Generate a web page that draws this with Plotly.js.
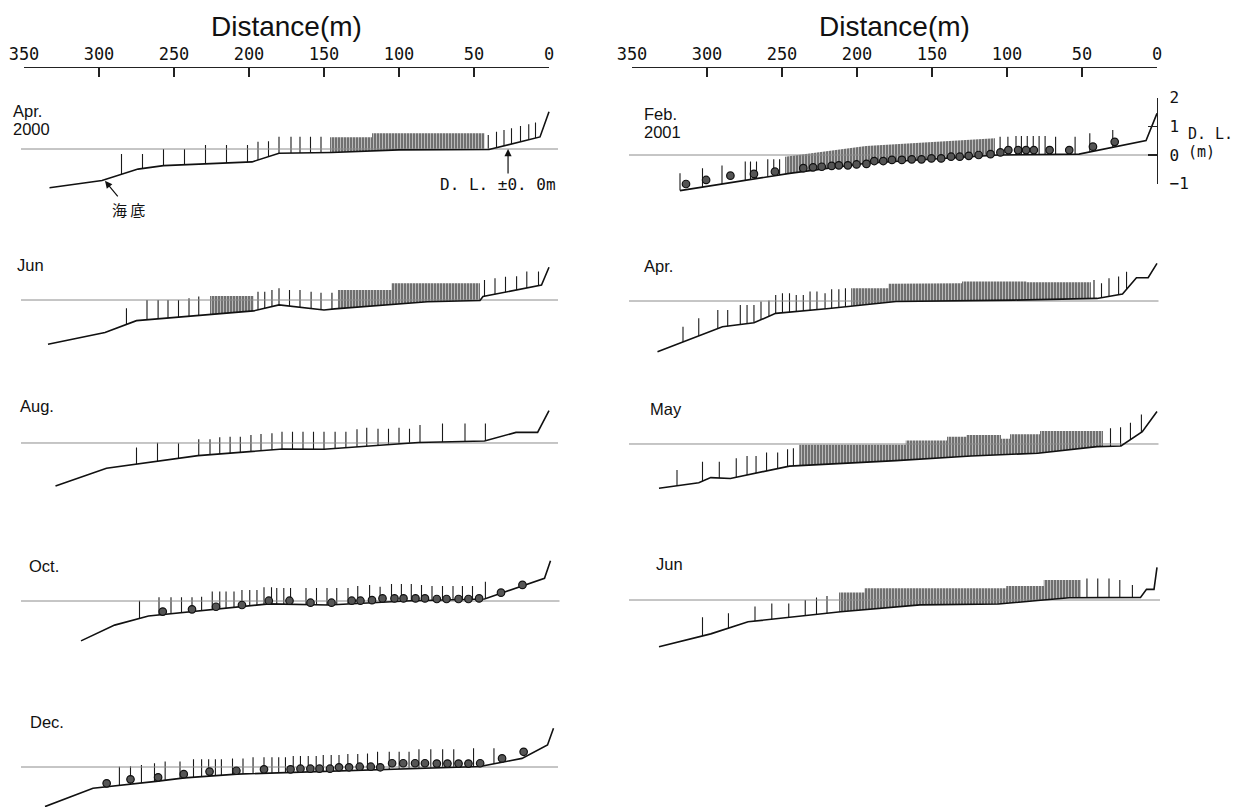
<!DOCTYPE html>
<html><head><meta charset="utf-8">
<script src="https://cdn.plot.ly/plotly-3.0.1.min.js"></script>
<style>html,body{margin:0;padding:0;background:#fff}#chart{width:1238px;height:808px}</style>
</head><body><div id="chart"></div>
<script>
// ---------------- DATA (distance m from shore, elevation m above D.L.) ----------------
const distanceTicks = [350,300,250,200,150,100,50,0];
const elevTicks = [2,1,0,-1];
const panelNames = [['Apr.','2000'],['Jun'],['Aug.'],['Oct.'],['Dec.'],['Feb.','2001'],['Apr.'],['May'],['Jun']];

// Apr. 2000
const seabedApr00 = [[333,-1.35],[298,-1.1],[274,-0.7],[257,-0.58],[198,-0.45],[180,-0.15],[145,-0.12],[100,-0.03],[40,-0.02],[6,0.42],[0,1.3]];
const stalksApr00 = [[285,-0.17],[271,-0.17],[257,0],[243,0],[229,0.14],[215,0.14],[201,0.14],[194,0.25],[187,0.27],[180,0.43],[172,0.43],[166,0.43],[159,0.43],[152,0.43],[40.5,0.49],[35,0.6],[30,0.66],[25,0.72],[19,0.8],[13.5,0.86],[9,0.92]];
const bandsApr00 = [[[146,0.41],[118,0.41],[118,0.55],[43,0.55]]];
const dotsApr00 = [];

// Jun 2000
const seabedJun00 = [[334,-1.54],[296,-1.13],[275,-0.72],[197,-0.38],[180,-0.17],[150,-0.35],[143,-0.31],[81,-0.06],[46,-0.02],[44,0.12],[5,0.52],[0,1.14]];
const stalksJun00 = [[281.7,-0.29],[268,0],[260.6,0],[254,0],[247,0],[240,0.06],[233.5,0.12],[194,0.29],[189.5,0.29],[184.7,0.35],[180,0.41],[173,0.35],[166,0.35],[158.6,0.29],[152,0.25],[144.7,0.25],[43,0.7],[36,0.76],[29,0.81],[21.6,0.83],[14.8,0.99],[7,0.99]];
const bandsJun00 = [[[226,0.14],[197,0.14]],[[140.7,0.35],[105,0.35],[105,0.58],[46,0.58]]];
const dotsJun00 = [];

// Aug. 2000
const seabedAug00 = [[329,-1.5],[295,-0.88],[234,-0.44],[177.6,-0.21],[150,-0.22],[105,-0.05],[87,0.02],[43,0.07],[22,0.37],[7.6,0.37],[0,1.13]];
const stalksAug00 = [[275,-0.16],[261,0.01],[247,-0.01],[233.5,0.13],[226,0.13],[219.5,0.2],[212.6,0.22],[205.8,0.22],[198.7,0.28],[192,0.31],[184.7,0.34],[178,0.39],[171,0.39],[164,0.39],[157,0.39],[150,0.39],[142.6,0.39],[135.4,0.39],[128,0.48],[121.5,0.53],[114,0.5],[107,0.5],[100,0.53],[93,0.5],[86,0.63],[71,0.68],[56,0.68],[42.4,0.68]];
const bandsAug00 = [];
const dotsAug00 = [];

// Oct. 2000
const seabedOct00 = [[312,-1.39],[289.6,-0.84],[267,-0.52],[186.8,-0.1],[147,-0.14],[134,-0.1],[92,0.01],[43,0.07],[3,0.79],[-1,1.4]];
const stalksOct00 = [[273,0.01],[260,0.13],[252,0.13],[245,0.13],[238,0.13],[231.6,0.15],[224.5,0.33],[219.5,0.33],[215.3,0.33],[210,0.33],[204.7,0.38],[199.5,0.38],[194.7,0.38],[190,0.48],[185,0.48],[181.5,0.45],[176.8,0.45],[172.3,0.45],[162,0.45],[155,0.45],[148,0.45],[141.5,0.45],[134,0.45],[127.5,0.52],[119.6,0.56],[112.6,0.5],[105,0.59],[98.4,0.59],[91.8,0.59],[85,0.56],[78,0.52],[71,0.52],[64,0.52],[57.7,0.52],[51,0.52],[42.4,0.67]];
const bandsOct00 = [];
const dotsOct00 = [[257.5,-0.37],[238,-0.29],[222,-0.2],[204.7,-0.14],[186.8,0.01],[173,0.01],[159,-0.06],[145,-0.06],[131.5,0.01],[125.7,0.01],[118,0.03],[111,0.09],[103,0.09],[97,0.09],[89,0.09],[82.7,0.09],[74.8,0.07],[68.3,0.07],[60.3,0.07],[53.7,0.07],[46.6,0.09],[32,0.29],[17.7,0.56]];

// Dec. 2000
const seabedDec00 = [[336,-1.38],[304,-0.74],[262,-0.5],[243,-0.38],[208,-0.25],[113,-0.09],[46,0.02],[26,0.22],[18,0.3],[1,0.77],[-3,1.35]];
const stalksDec00 = [[286.4,0.01],[279,0.03],[271.7,0.07],[263,0.13],[255.9,0.19],[246,0.19],[237,0.27],[231.6,0.27],[226.9,0.27],[222.4,0.27],[218.4,0.27],[211,0.3],[204,0.3],[197.3,0.34],[190,0.34],[184.7,0.34],[180.2,0.34],[175.7,0.34],[170.5,0.38],[165.7,0.38],[160.5,0.38],[155.2,0.38],[150.5,0.42],[145.2,0.42],[140,0.42],[134.1,0.45],[127.5,0.45],[121,0.47],[114.3,0.53],[106.5,0.53],[99.9,0.53],[93.3,0.53],[86.7,0.62],[78.8,0.62],[70.9,0.62],[63.5,0.62],[50.3,0.65],[36.7,0.65]];
const bandsDec00 = [];
const dotsDec00 = [[294.9,-0.57],[279,-0.43],[260.6,-0.36],[243.5,-0.25],[226.3,-0.16],[208.4,-0.13],[190,-0.08],[172.3,-0.08],[165.7,-0.06],[159.1,-0.06],[153,-0.06],[146,-0.06],[140,-0.01],[133.3,-0.01],[126.2,0.01],[118.8,0.01],[112.5,-0.01],[104.6,0.13],[97.2,0.13],[89.3,0.13],[82.7,0.13],[74.8,0.12],[67.7,0.12],[60.3,0.12],[53.7,0.12],[45.9,0.13],[31.3,0.3],[16.9,0.53]];

// Feb. 2001
const seabedFeb01 = [[318,-1.24],[245,-0.64],[193.7,-0.29],[105.7,0],[52,0.03],[7.3,0.5],[0,1.45]];
const stalksFeb01 = [[318,-0.64],[303,-0.46],[290,-0.37],[274.5,-0.23],[271,-0.23],[267,-0.23],[259.5,-0.15],[255.5,-0.15],[251.6,-0.15],[104.6,0.64],[99.4,0.64],[94,0.66],[90.4,0.66],[86.5,0.66],[82.5,0.66],[78.6,0.66],[74.6,0.66],[67.6,0.64],[54.6,0.64],[44.8,0.76],[29.5,0.87]];
const bandsFeb01 = [[[248,-0.06],[194,0.29],[194,0.31],[108,0.58]]];
const dotsFeb01 = [[314,-1.01],[300.6,-0.87],[284.4,-0.72],[268.7,-0.66],[254.7,-0.58],[235.8,-0.46],[229.3,-0.43],[223.5,-0.41],[216.9,-0.38],[212.1,-0.36],[206.1,-0.36],[200.3,-0.33],[193.7,-0.31],[188.5,-0.21],[182.5,-0.21],[176.7,-0.17],[170.1,-0.17],[163.5,-0.15],[157,-0.15],[150.4,-0.12],[143.9,-0.12],[137.3,-0.06],[131.5,-0.06],[125.5,-0.03],[118.9,0],[111,0.03],[104.4,0.09],[99.1,0.17],[92.6,0.17],[87.3,0.17],[82.1,0.17],[71.6,0.17],[58.5,0.17],[42.7,0.29],[28.2,0.46]];

// Apr. 2001
const seabedApr01 = [[333,-1.77],[289.7,-0.9],[268.7,-0.76],[254.2,-0.43],[218.7,-0.26],[174,-0.02],[95.3,0.03],[40,0.09],[23,0.24],[13.7,0.81],[5.9,0.81],[0,1.31]];
const stalksApr01 = [[316,-0.9],[305.5,-0.6],[292.8,-0.31],[286.2,-0.31],[277.8,-0.14],[273.3,-0.14],[268.7,-0.14],[264,-0.02],[258.7,0.02],[254.2,0.21],[249.7,0.27],[245,0.27],[240.5,0.21],[235.8,0.21],[231.3,0.33],[226.7,0.33],[221.3,0.27],[216.9,0.41],[212.1,0.41],[207.7,0.44],[42,0.73],[37,0.62],[32,0.79],[25.6,0.85],[20.3,1.02]];
const bandsApr01 = [[[204,0.44],[179,0.44],[179,0.6],[130,0.62],[130,0.68],[87,0.68],[87,0.65],[44,0.65]]];
const dotsApr01 = [];

// May 2001
const seabedMay01 = [[332,-1.54],[305.5,-1.35],[297.5,-1.17],[284.4,-1.2],[245,-0.77],[174,-0.58],[124,-0.42],[79.5,-0.32],[40,-0.09],[24,-0.07],[9.8,0.43],[0,1.13]];
const stalksMay01 = [[320,-0.91],[303,-0.62],[291.8,-0.62],[280.5,-0.5],[273.3,-0.42],[267.3,-0.42],[260.3,-0.3],[252.9,-0.3],[246.3,-0.18],[242.4,-0.15],[31,0.55],[24.3,0.58],[17.7,0.74],[10.4,1.03]];
const bandsMay01 = [[[238.5,-0.03],[167.5,-0.03],[167.5,0.12],[140,0.12],[140,0.25],[127,0.25],[127,0.31],[104,0.31],[104,0.18],[98,0.18],[98,0.34],[78,0.34],[78,0.45],[36,0.45]]];
const dotsMay01 = [];

// Jun 2001
const seabedJun01 = [[332,-1.63],[297.5,-1.18],[272.6,-0.76],[210.9,-0.41],[158,-0.17],[105.7,-0.14],[79.5,-0.02],[58.5,0.08],[11,0.09],[7,0.37],[2,0.37],[0,1.14]];
const stalksJun01 = [[303,-0.6],[285.7,-0.46],[268,-0.23],[256.8,-0.12],[245.5,-0.12],[234.5,0],[227,0.09],[220,0.14],[46.7,0.75],[39.5,0.75],[32,0.75],[24.8,0.7],[16.4,0.52]];
const bandsJun01 = [[[212,0.26],[195,0.26],[195,0.41],[100.5,0.41],[100.5,0.49],[75.5,0.49],[75.5,0.7],[50.7,0.7]]];
const dotsJun01 = [];

const seabeds = [seabedApr00,seabedJun00,seabedAug00,seabedOct00,seabedDec00,seabedFeb01,seabedApr01,seabedMay01,seabedJun01];
const stalks  = [stalksApr00,stalksJun00,stalksAug00,stalksOct00,stalksDec00,stalksFeb01,stalksApr01,stalksMay01,stalksJun01];
const bands   = [bandsApr00,bandsJun00,bandsAug00,bandsOct00,bandsDec00,bandsFeb01,bandsApr01,bandsMay01,bandsJun01];
const dots    = [dotsApr00,dotsJun00,dotsAug00,dotsOct00,dotsDec00,dotsFeb01,dotsApr01,dotsMay01,dotsJun01];

// ---------------- LAYOUT (pixels) ----------------
const W = 1238, H = 808, PXM = 28.7, PXD = 1.5;
const COLZERO = [549, 1157];          // pixel of distance 0 in each column
const XR = [353, -8];
const COL = [0,0,0,0,0,1,1,1,1];
const DLY = [149,300,443,601,767,155,301,444,600];
const LABXY = [[11,111],[15,265],[18,406],[27,566],[28,722],[642,114],[642,266],[648,409],[654,564]];
const DLEND = [-6,-6,-6,-7,-6,0,-1,-1,-2];
const FLOOR = -4;
const fx = px => px / W, fy = py => 1 - py / H;

// seabed elevation under a given distance (profile is listed from sea to shore)
function seabedAt(sb, x) {
  if (x >= sb[0][0]) return sb[0][1];
  for (let k = 1; k < sb.length; k++) {
    const a = sb[k-1], b = sb[k];
    if (x <= a[0] && x >= b[0]) return a[1] + (b[1]-a[1]) * (a[0]-x) / (a[0]-b[0]);
  }
  return sb[sb.length-1][1];
}

const traces = [];
const layout = {
  width: W, height: H, margin: {l:0,r:0,t:0,b:0}, showlegend: false,
  paper_bgcolor: '#fff', plot_bgcolor: 'rgba(0,0,0,0)', annotations: [],
  font: {family: 'Liberation Sans, Arial, sans-serif', color: '#111'}
};
const noAx = {visible:false, showgrid:false, zeroline:false, fixedrange:true};

seabeds.forEach((sb, i) => {
  const n = i + 1, xa = 'x' + n, ya = 'y' + n, dl = DLY[i], z = COLZERO[COL[i]];
  const top = dl - 1.6 * PXM, bot = Math.min(dl + 1.9 * PXM, 807);
  const yLow = -(bot - dl) / PXM;
  layout['xaxis' + n] = Object.assign({}, noAx, {domain: [fx(z - XR[0]*PXD), fx(z - XR[1]*PXD)], range: XR.slice(), anchor: ya});
  layout['yaxis' + n] = Object.assign({}, noAx, {domain: [fy(bot), fy(top)], range: [yLow, 1.6], anchor: xa});
  const base = {xaxis: xa, yaxis: ya, hoverinfo: 'skip', showlegend: false};
  const bandFloor = Math.max(Math.min.apply(null, sb.map(p => p[1])) - 0.1, yLow + 0.08);
  // dense stalk bands (hatched)
  bands[i].forEach(b => {
    traces.push(Object.assign({}, base, {
      x: b.map(p => p[0]).concat([b[b.length-1][0], b[0][0]]),
      y: b.map(p => p[1]).concat([bandFloor, bandFloor]),
      mode: 'lines', fill: 'toself', line: {width: 0, color: 'rgba(0,0,0,0)'},
      fillcolor: 'rgba(0,0,0,0)',
      fillpattern: {shape: '|', size: 3, solidity: 0.55, fgcolor: '#262626', bgcolor: 'rgba(0,0,0,0)'}
    }));
  });
  // white mask below seabed (hides hatching under the bottom)
  traces.push(Object.assign({}, base, {
    x: sb.map(p => p[0]).concat([sb[sb.length-1][0], sb[0][0]]),
    y: sb.map(p => p[1]).concat([FLOOR, FLOOR]),
    mode: 'lines', fill: 'toself', fillcolor: '#fff', line: {width: 0, color: 'rgba(0,0,0,0)'}
  }));
  // individual stalks, standing on the seabed
  const sx = [], sy = [];
  stalks[i].forEach(s => { sx.push(s[0], s[0], null); sy.push(s[1], seabedAt(sb, s[0]), null); });
  traces.push(Object.assign({}, base, {x: sx, y: sy, mode: 'lines', line: {color: '#1a1a1a', width: 1.1}}));
  // D.L. +-0 line
  traces.push(Object.assign({}, base, {x: [352, DLEND[i]], y: [0, 0], mode: 'lines', line: {color: '#8c8c8c', width: 1}}));
  // seabed profile
  traces.push(Object.assign({}, base, {x: sb.map(p => p[0]), y: sb.map(p => p[1]), mode: 'lines', line: {color: '#111', width: 1.6}}));
  // dots
  if (dots[i].length) traces.push(Object.assign({}, base, {
    x: dots[i].map(p => p[0]), y: dots[i].map(p => p[1]), mode: 'markers',
    marker: {size: 7.5, color: '#555', line: {color: '#111', width: 1.2}}
  }));
  // panel label
  panelNames[i].forEach((t, k) => layout.annotations.push({
    xref: 'paper', yref: 'paper', x: fx(LABXY[i][0]), y: fy(LABXY[i][1] + 18*k), xanchor: 'left', yanchor: 'middle',
    text: t, showarrow: false, font: {size: 16.5, color: '#111', family: 'Liberation Sans, Arial, sans-serif'}
  }));
});

// top distance axes
[[10, 0], [11, 1]].forEach(([n, c]) => {
  const z = COLZERO[c];
  layout['xaxis' + n] = {domain: [fx(z - 350*PXD), fx(z)], range: [350, 0], anchor: 'y' + n, side: 'top',
    tickmode: 'array', tickvals: distanceTicks, ticktext: distanceTicks.map(String),
    ticks: 'inside', ticklen: 9, tickwidth: 1.3, tickcolor: '#222', showline: true, linewidth: 1.3, linecolor: '#222',
    showgrid: false, zeroline: false, fixedrange: true,
    tickfont: {family: 'DejaVu Sans Mono, monospace', size: 17, color: '#111'}};
  layout['yaxis' + n] = Object.assign({}, noAx, {domain: [fy(80), fy(68)], range: [0, 1], anchor: 'x' + n});
  traces.push({x: [175], y: [0.5], xaxis: 'x' + n, yaxis: 'y' + n, mode: 'markers', marker: {opacity: 0}, hoverinfo: 'skip', showlegend: false});
  layout.annotations.push({xref: 'paper', yref: 'paper', x: fx(z - 175*PXD), y: fy(26), text: 'Distance(m)', showarrow: false,
    xanchor: 'center', yanchor: 'middle', font: {family: 'Liberation Sans, Arial, sans-serif', size: 28, color: '#111'}});
});

// right elevation axis (Feb. 2001 panel)
layout.xaxis13 = Object.assign({}, noAx, {domain: layout.xaxis6.domain, range: [0, 1], anchor: 'y12'});
layout.yaxis12 = {domain: [fy(DLY[5] + 1*PXM), fy(DLY[5] - 2*PXM)], range: [-1, 2], anchor: 'free', position: fx(COLZERO[1]),
  side: 'right', tickmode: 'array', tickvals: elevTicks, ticks: 'inside', ticklen: 9, tickwidth: 1.3, tickcolor: '#222',
  showline: true, linewidth: 1.3, linecolor: '#222', showgrid: false, zeroline: false, fixedrange: true, ticklabelstandoff: 8,
  tickfont: {family: 'DejaVu Sans Mono, monospace', size: 16, color: '#111'}};
traces.push({x: [0.5], y: [0.5], xaxis: 'x13', yaxis: 'y12', mode: 'markers', marker: {opacity: 0}, hoverinfo: 'skip', showlegend: false});
layout.annotations.push(
  {xref: 'paper', yref: 'paper', x: fx(1186), y: fy(134), xanchor: 'left', yanchor: 'middle', text: 'D. L.', showarrow: false, font: {family: 'DejaVu Sans Mono, monospace', size: 15, color: '#111'}},
  {xref: 'paper', yref: 'paper', x: fx(1186), y: fy(152), xanchor: 'left', yanchor: 'middle', text: '(m)', showarrow: false, font: {family: 'DejaVu Sans Mono, monospace', size: 15, color: '#111'}}
);

// Apr. 2000 notes
layout.annotations.push(
  {xref: 'x1', yref: 'y1', x: 296, y: -1.11, ax: 14, ay: 17, text: '', showarrow: true, arrowhead: 2, arrowsize: 1.2, arrowwidth: 1.2, arrowcolor: '#111'},
  {xref: 'paper', yref: 'paper', x: fx(128), y: fy(209), xanchor: 'center', yanchor: 'middle', text: '海 底', showarrow: false, font: {family: 'Noto Sans CJK JP, sans-serif', size: 15, color: '#111'}},
  {xref: 'x1', yref: 'y1', x: 27.3, y: 0.0, ax: 0, ay: 26, text: '', showarrow: true, arrowhead: 2, arrowsize: 1.2, arrowwidth: 1.2, arrowcolor: '#111'},
  {xref: 'paper', yref: 'paper', x: fx(498), y: fy(185), xanchor: 'center', yanchor: 'middle', text: 'D. L. ±0. 0m', showarrow: false, font: {family: 'DejaVu Sans Mono, monospace', size: 16, color: '#111'}}
);

Plotly.newPlot('chart', traces, layout, {staticPlot: true, displayModeBar: false});
</script></body></html>
